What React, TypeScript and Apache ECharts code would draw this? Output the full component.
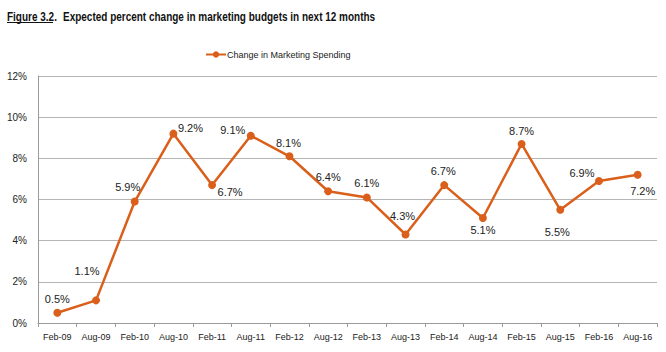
import React, { useEffect, useRef } from "react";
import * as echarts from "echarts";

const categories = [
  "Feb-09", "Aug-09", "Feb-10", "Aug-10", "Feb-11", "Aug-11", "Feb-12", "Aug-12",
  "Feb-13", "Aug-13", "Feb-14", "Aug-14", "Feb-15", "Aug-15", "Feb-16", "Aug-16",
];
const spending = [0.5, 1.1, 5.9, 9.2, 6.7, 9.1, 8.1, 6.4, 6.1, 4.3, 6.7, 5.1, 8.7, 5.5, 6.9, 7.2];
const yTicks = [0, 2, 4, 6, 8, 10, 12];
const seriesName = "Change in Marketing Spending";
const titleLead = "Figure 3.2.";
const titleRest = "Expected percent change in marketing budgets in next 12 months";

// label offsets relative to the point (style only)
const labelOffsets: [number, number][] = [
  [0, -14], [-9, -29], [-7, -15], [17, -6], [18, 7], [-18, -6], [-1, -13], [0, -14],
  [0, -14], [-3, -18], [-1, -14], [0, 12], [0, -13], [-3, 22], [-17, -8], [5, 16],
];

const ORANGE = "#D95F1A";
const FONT = "'Liberation Sans', Arial, sans-serif";

export default function App() {
  const ref = useRef<HTMLDivElement>(null);
  useEffect(() => {
    if (!ref.current) return;
    const chart = echarts.init(ref.current, undefined, { renderer: "svg" });
    chart.setOption({
      animation: false,
      backgroundColor: "#ffffff",
      textStyle: { fontFamily: FONT },
      graphic: [
        {
          type: "text",
          x: 7,
          y: 9,
          scaleX: 0.74,
          style: { text: titleLead, font: `bold 13.5px ${FONT}`, fill: "#111", verticalAlign: "top" },
        },
        {
          type: "line",
          shape: { x1: 7, y1: 22.5, x2: 53, y2: 22.5 },
          style: { stroke: "#111", lineWidth: 1 },
        },
        {
          type: "text",
          x: 63,
          y: 9,
          scaleX: 0.74,
          style: { text: titleRest, font: `bold 13.5px ${FONT}`, fill: "#111", verticalAlign: "top" },
        },
      ],
      legend: {
        left: 200,
        top: 45,
        itemWidth: 20,
        itemHeight: 8,
        itemGap: 4,
        textStyle: { fontFamily: FONT, fontSize: 9, color: "#222", padding: [0, 0, 0, -4] },
        data: [seriesName],
      },
      grid: { left: 38, right: 9, top: 76, bottom: 29 },
      xAxis: {
        type: "category",
        data: categories,
        boundaryGap: true,
        axisLine: { lineStyle: { color: "#9a9a9a", width: 1 } },
        axisTick: { show: true, length: 4, alignWithLabel: false, lineStyle: { color: "#9a9a9a" } },
        axisLabel: { fontFamily: FONT, fontSize: 9, color: "#222", margin: 9, interval: 0 },
      },
      yAxis: {
        type: "value",
        min: yTicks[0],
        max: yTicks[yTicks.length - 1],
        interval: 2,
        axisLine: { show: true, lineStyle: { color: "#9a9a9a", width: 1 } },
        axisTick: { show: false },
        axisLabel: { fontFamily: FONT, fontSize: 10, color: "#222", formatter: "{value}%", margin: 11 },
        splitLine: { lineStyle: { color: "#b5b5b5", width: 1.2 } },
      },
      series: [
        {
          name: seriesName,
          type: "line",
          data: spending.map((v, i) => ({
            value: v,
            label: {
              show: true,
              position: "inside",
              offset: labelOffsets[i],
            },
          })),
          symbol: "circle",
          symbolSize: 8,
          itemStyle: { color: ORANGE },
          lineStyle: { color: ORANGE, width: 2.5 },
          label: {
            show: true,
            formatter: (p: any) => `${p.value}%`,
            fontFamily: FONT,
            fontSize: 11,
            color: "#222",
            align: "center",
            verticalAlign: "middle",
          },
        },
      ],
    });
    return () => chart.dispose();
  }, []);
  return <div ref={ref} style={{ width: 666, height: 352, position: "fixed", left: 0, top: 0 }} />;
}
